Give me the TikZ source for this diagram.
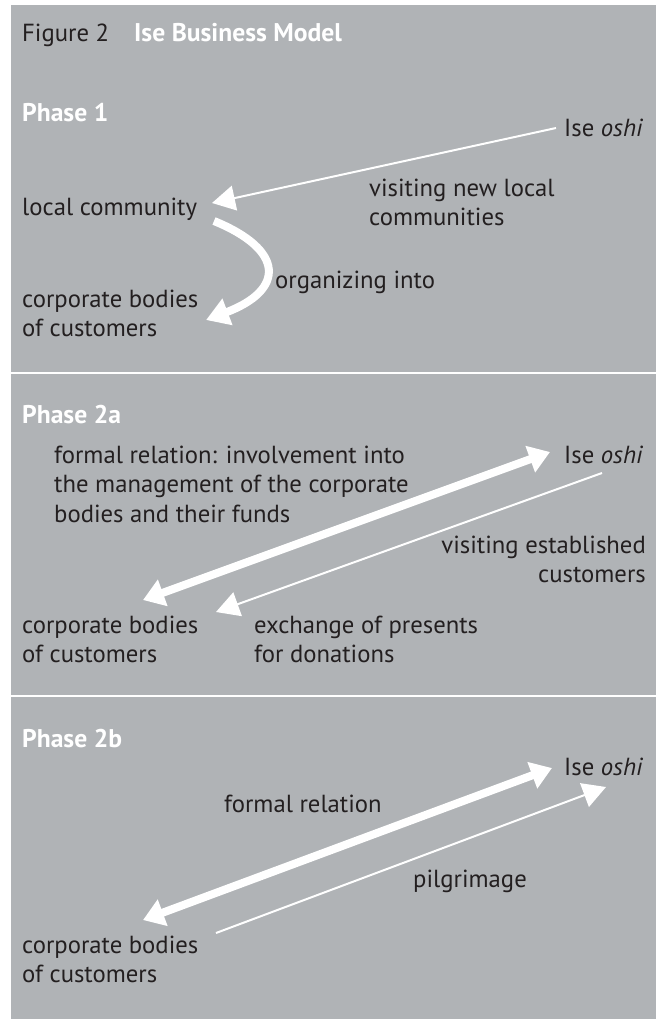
\documentclass[tikz,border=0pt]{standalone}
\usepackage{fontspec}
\setmainfont{PT Sans}
\usetikzlibrary{arrows.meta}
\definecolor{panel}{RGB}{176,179,182}
\definecolor{ink}{RGB}{35,31,32}
\newcommand{\fs}{\fontsize{24.7}{29.5}\selectfont}
\newcommand{\fb}{\fontsize{25.6}{29.5}\selectfont\bfseries}
\tikzset{
  lbl/.style={inner sep=0pt, anchor=base west, text=ink, font=\fs},
  mlbl/.style={inner sep=0pt, anchor=north west, align=left, text=ink, font=\fs},
  head/.style={inner sep=0pt, anchor=base west, text=white, font=\fb},
  thin/.style={draw=white, line width=2pt, -{Triangle[length=23pt,width=25pt]}},
  thick/.style={draw=white, line width=8pt, {Triangle[length=21pt,width=27pt]}-{Triangle[length=21pt,width=27pt]}},
  thickone/.style={draw=white, line width=8pt, -{Triangle[length=23pt,width=27pt]}},
}
\begin{document}
\begin{tikzpicture}[x=1pt,y=-1pt]
\useasboundingbox (0,0) rectangle (656,1021);
\fill[white] (0,0) rectangle (656,1021);
\fill[panel] (11,5) rectangle (656,1019);
\draw[white, line width=2pt] (0,373) -- (656,373);
\draw[white, line width=2pt] (0,696) -- (656,696);

% title
\node[lbl] (fig) at (22,41) {Figure 2};
\node[head] (title) at (134,41) {Ise Business Model};

% Phase 1
\node[head] (p1) at (22,121) {Phase 1};
\node[lbl] (ise1) at (564,136) {Ise \textit{oshi}};
\node[lbl] (lc) at (22,215) {local community};
\node[mlbl] (vnl) at (369,175.35) {\strut visiting new local\\\strut communities};
\node[lbl] (org) at (275,288) {organizing into};
\node[mlbl] (cb1) at (22,286.35) {\strut corporate bodies\\\strut of customers};
\coordinate (a1s) at (556,128);
\coordinate (a1e) at (212,203);
\draw[thin] (a1s) -- (a1e);
\coordinate (c1s) at (214,221);
\coordinate (c1e) at (206,320);
\draw[thickone] (c1s) .. controls (285,250) and (285,290) .. (c1e);

% Phase 2a
\node[head] (p2a) at (22,423) {Phase 2a};
\node[mlbl] (fr2a) at (54,442.35) {\strut formal relation: involvement into\\\strut the management of the corporate\\\strut bodies and their funds};
\node[lbl] (ise2a) at (564,463) {Ise \textit{oshi}};
\node[mlbl, anchor=north east, align=right] (ve) at (646,532.35) {\strut visiting established\\\strut customers};
\node[mlbl] (cb2a) at (22,612.35) {\strut corporate bodies\\\strut of customers};
\node[mlbl] (ex) at (254,612.35) {\strut exchange of presents\\\strut for donations};
\coordinate (d2a1) at (143,600);
\coordinate (d2a2) at (550,452);
\draw[thick] (d2a1) -- (d2a2);
\coordinate (t2as) at (602,473);
\coordinate (t2ae) at (216,612);
\draw[thin] (t2as) -- (t2ae);

% Phase 2b
\node[head] (p2b) at (22,747) {Phase 2b};
\node[lbl] (ise2b) at (564,775) {Ise \textit{oshi}};
\node[lbl] (fr2b) at (224,812) {formal relation};
\node[lbl] (pil) at (413,887) {pilgrimage};
\node[mlbl] (cb2b) at (22,932.35) {\strut corporate bodies\\\strut of customers};
\coordinate (d2b1) at (143,920);
\coordinate (d2b2) at (552,768);
\draw[thick] (d2b1) -- (d2b2);
\coordinate (t2bs) at (216,933);
\coordinate (t2be) at (606,787);
\draw[thin] (t2bs) -- (t2be);
\end{tikzpicture}
\end{document}
